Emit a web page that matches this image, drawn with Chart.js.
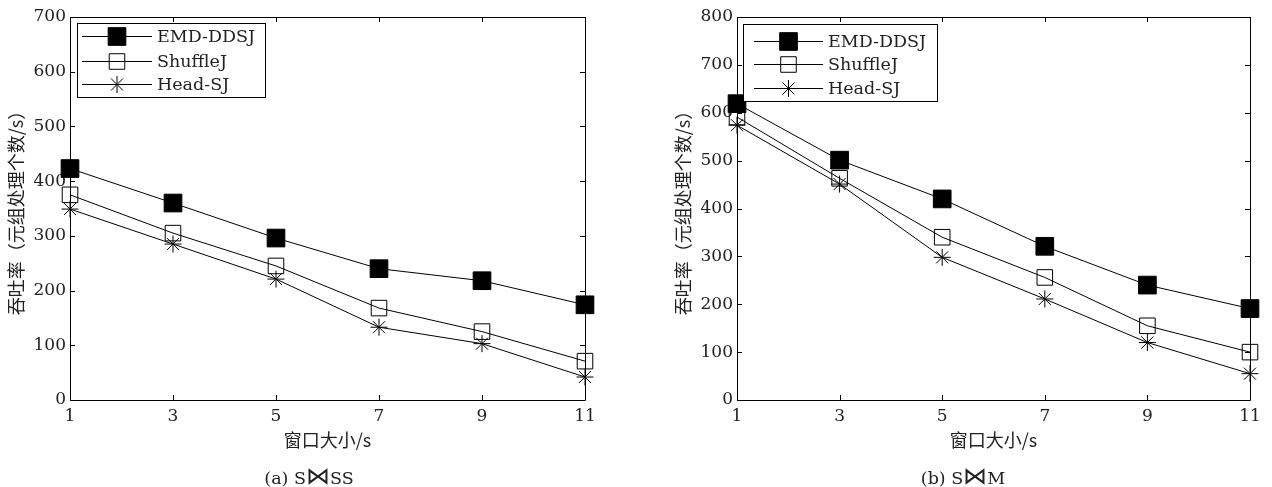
<!DOCTYPE html>
<html>
<head>
<meta charset="utf-8">
<script src="https://cdn.jsdelivr.net/npm/chart.js@4/dist/chart.umd.min.js"></script>
<style>
  body { margin: 0; background: #fff; width: 1272px; height: 487px; position: relative; overflow: hidden; }
  .panel { position: absolute; top: 0; width: 636px; height: 487px; }
  .caption { position: absolute; top: 466px; font: 17.5px "DejaVu Serif", serif; color: #222; white-space: nowrap; transform: translateX(-50%); line-height: 24px; }
  .caption span { font-family: "DejaVu Sans", sans-serif; font-weight: 200; font-size: 1.35em; line-height: 10px; }
</style>
</head>
<body>
<div class="panel" style="left:0"><canvas id="graficoA" width="636" height="487"></canvas></div>
<div class="panel" style="left:636px"><canvas id="graficoB" width="636" height="487"></canvas></div>
<div class="caption" style="left:309px">(a) S<span>⋈</span>SS</div>
<div class="caption" style="left:963px">(b) S<span>⋈</span>M</div>

<script>
// ==========================================================
// Datos: throughput vs. tamaño de ventana
// ==========================================================
const ventanas = [1, 3, 5, 7, 9, 11];
const series = ["EMD-DDSJ", "ShuffleJ", "Head-SJ"];

// (a) S⋈SS
const emdA = [423, 360, 296, 240, 218, 174];
const shuffleA = [375, 305, 245, 168, 125, 71];
const headA = [349, 285, 221, 133, 103, 42];
const ticksYA = [0, 100, 200, 300, 400, 500, 600, 700];

// (b) S⋈M
const emdB = [619, 501, 420, 321, 240, 191];
const shuffleB = [591, 463, 340, 256, 155, 100];
const headB = [574, 451, 298, 211, 120, 55];
const ticksYB = [0, 100, 200, 300, 400, 500, 600, 700, 800];

const tituloY = "吞吐率（元组处理个数/s）";
const tituloX = "窗口大小/s";

const fuenteNum = "'DejaVu Serif', serif";
const fuenteCJK = "'Noto Sans CJK SC', 'DejaVu Serif', sans-serif";
const colorTexto = "#222";

// estilos de marcador por serie
const estilos = [
  { pointStyle: "rect", radius: 12.5, fill: "#000" },
  { pointStyle: "rect", radius: 11, fill: "rgba(0,0,0,0)" },
  { pointStyle: "star", radius: 8.5, fill: "rgba(0,0,0,0)" }
];

// ==========================================================
// Marco + ticks hacia adentro (estilo MATLAB)
// ==========================================================
const marcoPlugin = {
  id: "marco",
  beforeDatasetsDraw(chart) {
    const { ctx, chartArea: a, scales } = chart;
    const L = 5;
    ctx.save();
    ctx.strokeStyle = "#000";
    ctx.lineWidth = 1;
    ctx.beginPath();
    ctx.rect(a.left + 0.5, a.top + 0.5, a.right - a.left, a.bottom - a.top);
    scales.x.ticks.forEach(t => {
      const px = Math.round(scales.x.getPixelForValue(t.value)) + 0.5;
      ctx.moveTo(px, a.bottom); ctx.lineTo(px, a.bottom - L);
      ctx.moveTo(px, a.top); ctx.lineTo(px, a.top + L);
    });
    scales.y.ticks.forEach(t => {
      const py = Math.round(scales.y.getPixelForValue(t.value)) + 0.5;
      ctx.moveTo(a.left, py); ctx.lineTo(a.left + L, py);
      ctx.moveTo(a.right, py); ctx.lineTo(a.right - L, py);
    });
    ctx.stroke();
    ctx.restore();
  }
};

// ==========================================================
// Leyenda con línea + marcador
// ==========================================================
function marcador(ctx, est, x, y) {
  const r = est.radius;
  ctx.beginPath();
  if (est.pointStyle === "rect") {
    const s = Math.SQRT1_2 * r;
    ctx.rect(x - s, y - s, 2 * s, 2 * s);
    if (est.fill !== "rgba(0,0,0,0)") { ctx.fillStyle = est.fill; ctx.fill(); }
    ctx.stroke();
  } else {
    const d = Math.SQRT1_2 * r;
    ctx.moveTo(x - r, y); ctx.lineTo(x + r, y);
    ctx.moveTo(x, y - r); ctx.lineTo(x, y + r);
    ctx.moveTo(x - d, y - d); ctx.lineTo(x + d, y + d);
    ctx.moveTo(x - d, y + d); ctx.lineTo(x + d, y - d);
    ctx.stroke();
  }
}

const leyendaPlugin = {
  id: "leyendaMatlab",
  afterDatasetsDraw(chart, args, opts) {
    const { ctx } = chart;
    const b = opts.box;
    ctx.save();
    ctx.fillStyle = "#fff";
    ctx.fillRect(b.x, b.y, b.w, b.h);
    ctx.strokeStyle = "#000";
    ctx.lineWidth = 1;
    ctx.strokeRect(b.x + 0.5, b.y + 0.5, b.w, b.h);
    ctx.font = "17.5px " + fuenteNum;
    ctx.textBaseline = "middle";
    series.forEach((nombre, i) => {
      const y = opts.filas[i];
      ctx.strokeStyle = "#000";
      ctx.beginPath();
      ctx.moveTo(opts.linea[0], y + 0.5); ctx.lineTo(opts.linea[1], y + 0.5);
      ctx.stroke();
      marcador(ctx, estilos[i], (opts.linea[0] + opts.linea[1]) / 2, y + 0.5);
      ctx.fillStyle = colorTexto;
      ctx.fillText(nombre, opts.texto, y + 1);
    });
    ctx.restore();
  }
};

// ==========================================================
// Construir cada gráfico
// ==========================================================
function crearGrafico(id, datos, ticksY, cfg) {
  const datasets = datos.map((valores, i) => ({
    label: series[i],
    data: ventanas.map((x, j) => ({ x, y: valores[j] })),
    borderColor: "#000",
    borderWidth: 1,
    backgroundColor: estilos[i].fill,
    pointStyle: estilos[i].pointStyle,
    pointRadius: estilos[i].radius,
    pointBorderColor: "#000",
    pointBackgroundColor: estilos[i].fill,
    pointBorderWidth: 1,
    pointHoverRadius: estilos[i].radius,
    tension: 0,
    clip: false
  }));

  return new Chart(document.getElementById(id), {
    type: "line",
    data: { datasets },
    plugins: [marcoPlugin, leyendaPlugin],
    options: {
      responsive: false,
      animation: false,
      events: [],
      layout: { padding: { top: 17, right: cfg.derecha, left: 0, bottom: 0 } },
      plugins: {
        legend: { display: false },
        tooltip: { enabled: false },
        leyendaMatlab: cfg.leyenda
      },
      scales: {
        x: {
          type: "linear",
          min: 1, max: 11,
          afterBuildTicks: s => { s.ticks = ventanas.map(v => ({ value: v })); },
          afterFit: s => { s.height = 87; },
          grid: { display: false, drawTicks: false },
          border: { display: false },
          ticks: { font: { family: fuenteNum, size: 17 }, color: colorTexto, padding: 6, autoSkip: false, maxRotation: 0 },
          title: { display: true, text: tituloX, font: { family: fuenteCJK, size: 18 }, color: colorTexto, padding: { top: 0, bottom: 36 } }
        },
        y: {
          min: 0, max: ticksY[ticksY.length - 1],
          afterBuildTicks: s => { s.ticks = ticksY.map(v => ({ value: v })); },
          afterFit: s => { s.width = cfg.anchoY; },
          grid: { display: false, drawTicks: false },
          border: { display: false },
          ticks: { font: { family: fuenteNum, size: 17 }, color: colorTexto, padding: 4 },
          title: { display: true, text: tituloY, font: { family: fuenteCJK, size: 18 }, color: colorTexto, padding: { top: cfg.tituloY, bottom: 0 } }
        }
      }
    }
  });
}

crearGrafico("graficoA", [emdA, shuffleA, headA], ticksYA, {
  derecha: 51, anchoY: 70, tituloY: 5,
  leyenda: { box: { x: 77, y: 23, w: 188, h: 74 }, filas: [36, 61, 84], linea: [82, 152], texto: 157 }
});

crearGrafico("graficoB", [emdB, shuffleB, headB], ticksYB, {
  derecha: 22, anchoY: 101, tituloY: 36,
  leyenda: { box: { x: 107, y: 24, w: 194, h: 77 }, filas: [41, 64, 88], linea: [118, 187], texto: 192 }
});
</script>
</body>
</html>
